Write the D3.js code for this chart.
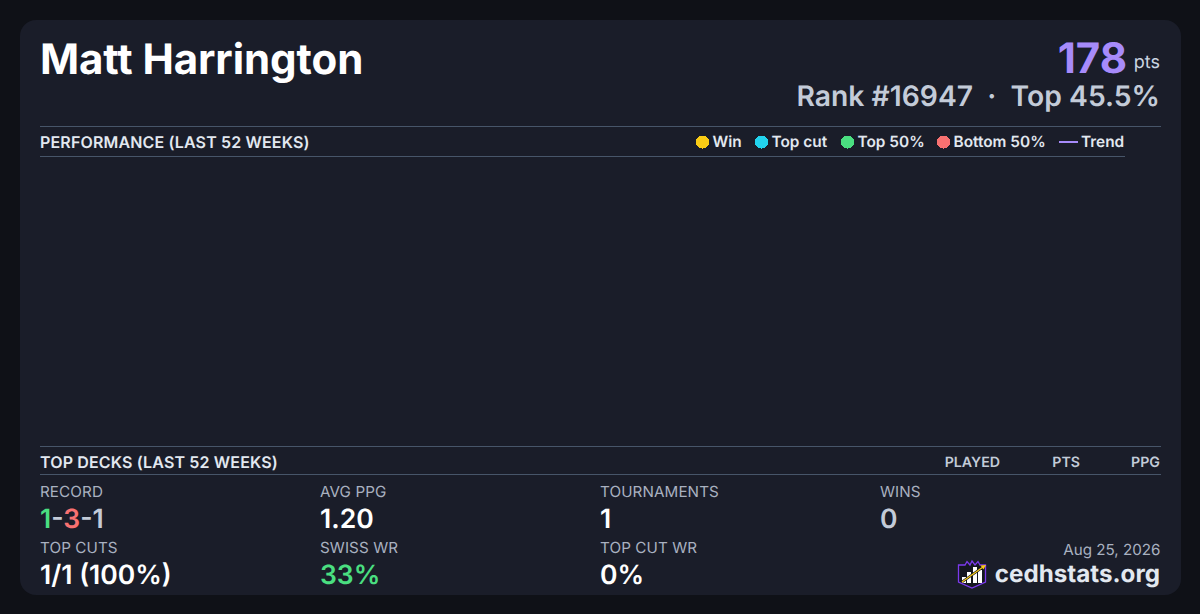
<!DOCTYPE html>
<html>
<head>
<meta charset="utf-8">
<script src="https://cdn.jsdelivr.net/npm/d3@7"></script>
<style>
  html, body { margin: 0; padding: 0; background: #0f1117; overflow: hidden; }
  text { font-family: Inter, sans-serif; text-rendering: geometricPrecision; }
</style>
</head>
<body>
<script>
var playerName = "Matt Harrington";
var points = 178;
var rankLine = "Rank #16947  ·  Top 45.5%";
var dateLabel = "Aug 25, 2026";
var siteLabel = "cedhstats.org";

var legendLabels = ["Win", "Top cut", "Top 50%", "Bottom 50%", "Trend"];
var legendColors = ["#facc15", "#22d3ee", "#4ade80", "#f87171", "#a78bfa"];
var legendX = [696, 755, 841, 937, 1059];

var deckColumns = ["PLAYED", "PTS", "PPG"];
var deckColumnRight = [1000, 1080, 1160];

var statLabels = ["RECORD", "AVG PPG", "TOURNAMENTS", "WINS", "TOP CUTS", "SWISS WR", "TOP CUT WR"];
var statValues = ["", "1.20", "1", "0", "1/1 (100%)", "33%", "0%"];
var statColors = ["#fff", "#fff", "#fff", "#c3cbd8", "#fff", "#4ade80", "#fff"];
var recordParts = ["1", "-", "3", "-", "1"];
var recordColors = ["#4ade80", "#c3cbd8", "#f87171", "#c3cbd8", "#c3cbd8"];

var svg = d3.select("body").append("svg")
    .attr("width", 1200)
    .attr("height", 614)
    .style("display", "block");

svg.append("rect").attr("width", 1200).attr("height", 614).attr("fill", "#0f1117");
svg.append("rect")
    .attr("x", 20).attr("y", 20).attr("width", 1161).attr("height", 575)
    .attr("rx", 16).attr("fill", "#1a1d29");

// header
svg.append("text").attr("x", 40).attr("y", 73.5)
    .attr("font-size", 42).attr("font-weight", 700).attr("fill", "#fff")
    .attr("letter-spacing", -0.07)
    .text(playerName);

svg.append("text").attr("x", 1127).attr("y", 73)
    .attr("text-anchor", "end")
    .attr("font-size", 42).attr("font-weight", 700).attr("fill", "#a78bfa")
    .text(points);
svg.append("text").attr("x", 1160).attr("y", 68)
    .attr("text-anchor", "end")
    .attr("font-size", 18).attr("fill", "#cbd5e1").text("pts");

svg.append("text").attr("x", 1160).attr("y", 106)
    .attr("text-anchor", "end").attr("xml:space", "preserve")
    .style("white-space", "pre")
    .attr("font-size", 28.3).attr("font-weight", 600).attr("fill", "#c3cbd8")
    .text(rankLine);

// section rules
function rule(y, x2) {
  svg.append("line").attr("x1", 40).attr("x2", x2).attr("y1", y + 0.5).attr("y2", y + 0.5)
      .attr("stroke", "#475569").attr("stroke-width", 1);
}
rule(126, 1161);
rule(156, 1125);
rule(446, 1161);
rule(474, 1161);

function sectionTitle(y, t) {
  svg.append("text").attr("x", 40).attr("y", y)
      .attr("font-size", 16).attr("font-weight", 600).attr("fill", "#e2e8f0")
      .attr("letter-spacing", 0.15).text(t);
}
sectionTitle(148, "PERFORMANCE (LAST 52 WEEKS)");
sectionTitle(468, "TOP DECKS (LAST 52 WEEKS)");

// legend
var legend = svg.selectAll(".legend")
    .data(legendLabels)
  .enter().append("g")
    .attr("class", "legend")
    .attr("transform", function(d, i) { return "translate(" + legendX[i] + ",142)"; });

legend.each(function(d, i) {
  var g = d3.select(this);
  if (d == "Trend") {
    g.append("line").attr("x1", 0).attr("x2", 19).attr("stroke", legendColors[i]).attr("stroke-width", 2);
    g.append("text").attr("x", 22).attr("y", 5).attr("font-size", 15.4).attr("font-weight", 600).attr("fill", "#e2e8f0").text(d);
  } else {
    g.append("circle").attr("cx", 6.5).attr("r", 6.5).attr("fill", legendColors[i]).attr("shape-rendering", "crispEdges");
    g.append("text").attr("x", 16.5).attr("y", 5).attr("font-size", 15.4).attr("font-weight", 600).attr("fill", "#e2e8f0").text(d);
  }
});

// top decks column heads
svg.selectAll(".deckcol")
    .data(deckColumns)
  .enter().append("text")
    .attr("class", "deckcol")
    .attr("x", function(d, i) { return deckColumnRight[i]; })
    .attr("y", 467)
    .attr("text-anchor", "end")
    .attr("font-size", 14.2).attr("font-weight", 600).attr("fill", "#c3cbd8")
    .text(function(d) { return d; });

// stats grid, 4 columns, 2 rows
var stat = svg.selectAll(".stat")
    .data(statLabels)
  .enter().append("g")
    .attr("class", "stat")
    .attr("transform", function(d, i) {
      return "translate(" + (40 + (i % 4) * 280) + "," + (497 + Math.floor(i / 4) * 56) + ")";
    });

stat.append("text").attr("font-size", 15.2).attr("letter-spacing", 0.1).attr("fill", "#a9b1c0")
    .text(function(d) { return d; });

stat.append("text").attr("y", 31).attr("font-size", 26.5).attr("font-weight", 600)
    .attr("fill", function(d, i) { return statColors[i]; })
    .text(function(d, i) { return statValues[i]; })
    .filter(function(d, i) { return i == 0; })
    .selectAll("tspan")
    .data(recordParts)
  .enter().append("tspan")
    .attr("fill", function(d, i) { return recordColors[i]; })
    .text(function(d) { return d; });

// footer
svg.append("text").attr("x", 1160.5).attr("y", 555).attr("text-anchor", "end")
    .attr("font-size", 15.2).attr("fill", "#a9b1c0").text(dateLabel);
svg.append("text").attr("x", 1160).attr("y", 582).attr("text-anchor", "end")
    .attr("font-size", 24.2).attr("font-weight", 700).attr("fill", "#e2e8f0").text(siteLabel);

// logo
var logo = svg.append("g").attr("transform", "translate(958,560)");
logo.append("path")
    .attr("d", "M0.5 5 L7 5 L9 1.5 L12 5 L14 1 L17 5 L20 1.5 L22 5 L27.5 5 L27.5 22 L14 28 L0.5 22 Z")
    .attr("fill", "#14161f").attr("stroke", "#7c3aed").attr("stroke-width", 1.3);
logo.selectAll(".bar")
    .data([[4, 17, 6], [9, 12, 11], [15, 7, 16], [20, 10, 13]])
  .enter().append("rect")
    .attr("class", "bar")
    .attr("x", function(d) { return d[0]; })
    .attr("y", function(d) { return d[1]; })
    .attr("width", 4)
    .attr("height", function(d) { return d[2]; })
    .attr("fill", "#fff");
logo.append("line").attr("x1", 4).attr("y1", 22).attr("x2", 25).attr("y2", 7)
    .attr("stroke", "#14161f").attr("stroke-width", 2.6);
logo.append("line").attr("x1", 4).attr("y1", 22).attr("x2", 25).attr("y2", 7)
    .attr("stroke", "#facc15").attr("stroke-width", 1.2);
logo.append("path").attr("d", "M28 5 L22.5 5.5 L25.5 9.5 Z").attr("fill", "#facc15");
</script>
</body>
</html>
